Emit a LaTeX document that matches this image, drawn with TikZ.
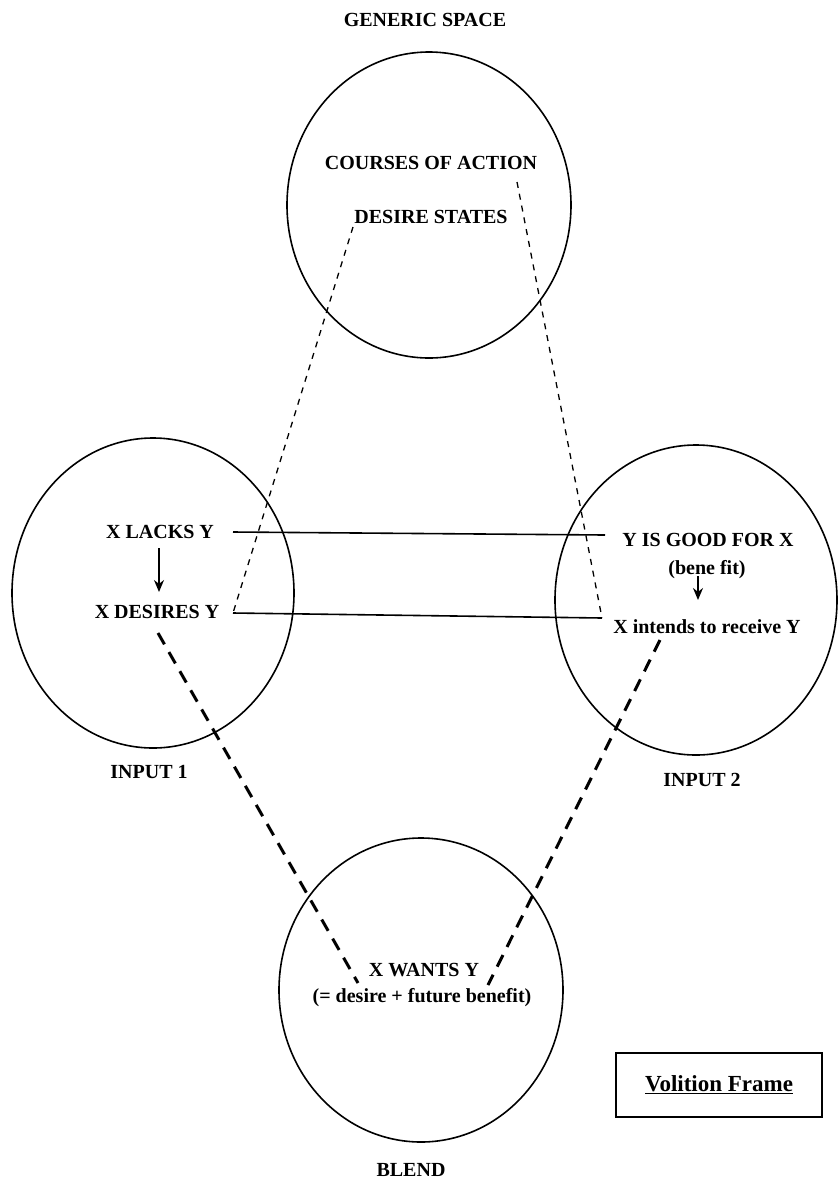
\documentclass[tikz,border=0pt]{standalone}
\usepackage{fontspec}
\setmainfont{Liberation Serif}
\usepackage{tikz}
\usetikzlibrary{shapes.geometric, arrows.meta, positioning, calc}

\tikzset{
  space/.style={draw, ellipse, line width=1.6pt, minimum width=284pt, minimum height=306pt, inner sep=0pt},
  lbl/.style={font=\fontsize{20}{24}\selectfont\bfseries, inner sep=1pt},
  link/.style={line width=1.6pt},
  thinmap/.style={line width=1.3pt, dash pattern=on 6pt off 6pt},
  thickmap/.style={line width=3pt, dash pattern=on 13pt off 9pt},
  flow/.style={line width=1.4pt, -{Stealth[length=12pt, width=10pt]}}
}

\begin{document}
\begin{tikzpicture}[x=1pt, y=-1pt]
    \useasboundingbox (0,0) rectangle (840,1179);

    % The four spaces
    \node[space] (generic) at (429,205) {};
    \node[space, minimum width=282pt, minimum height=310pt] (inputone) at (153,593) {};
    \node[space, minimum width=282pt, minimum height=310pt] (inputtwo) at (696,600) {};
    \node[space, minimum height=304pt] (blend) at (421,990) {};

    % Space names
    \node[lbl] (gentitle) at (425,20) {GENERIC SPACE};
    \node[lbl] (inonetitle) at (149,772) {INPUT 1};
    \node[lbl] (intwotitle) at (702,780) {INPUT 2};
    \node[lbl] (blendtitle) at (411,1170) {BLEND};

    % Contents
    \node[lbl] (courses) at (431,163) {COURSES OF ACTION};
    \node[lbl] (desirestates) at (431,217) {DESIRE STATES};
    \node[lbl] (lacks) at (160,532) {X LACKS Y};
    \node[lbl] (desires) at (157,612) {X DESIRES Y};
    \node[lbl] (good) at (708,540) {Y IS GOOD FOR X};
    \node[lbl] (benefit) at (707,570) {(bene fit)};
    \node[lbl] (intends) at (707,627) {X intends to receive Y};
    \node[lbl] (wants) at (424,970) {X WANTS Y};
    \node[lbl] (wantsdef) at (422,998) {(= desire + future benefit)};

    % Legend box
    \node[draw, line width=1.6pt, minimum width=206pt, minimum height=64pt,
          font=\fontsize{23}{26}\selectfont\bfseries] (frame) at (719,1085)
          {\underline{Volition Frame}};

    % Connector ends
    \coordinate (lacksend) at (233,532);
    \coordinate (goodend) at (605,535);
    \coordinate (desiresend) at (233,613);
    \coordinate (intendsend) at (602,618);
    \coordinate (dsfoot) at (353,227);
    \coordinate (cafoot) at (517,182);
    \coordinate (desiresfoot) at (158,633);
    \coordinate (intendsfoot) at (660,640);
    \coordinate (wantsleft) at (358,983);
    \coordinate (wantsright) at (488,985);
    \coordinate (lacksdown) at (159,548);
    \coordinate (desiresup) at (159,592);
    \coordinate (benefitdown) at (698,576);
    \coordinate (intendsup) at (698,600);

    % Cross-space links
    \draw[link] (lacksend) -- (goodend);
    \draw[link] (desiresend) -- (intendsend);
    \draw[flow] (lacksdown) -- (desiresup);
    \draw[flow] (benefitdown) -- (intendsup);

    % Generic mappings
    \draw[thinmap] (dsfoot) -- (desiresend);
    \draw[thinmap] (cafoot) -- (intendsend);

    % Projections to the blend
    \draw[thickmap] (desiresfoot) -- (wantsleft);
    \draw[thickmap] (intendsfoot) -- (wantsright);
  \end{tikzpicture}
\end{document}
